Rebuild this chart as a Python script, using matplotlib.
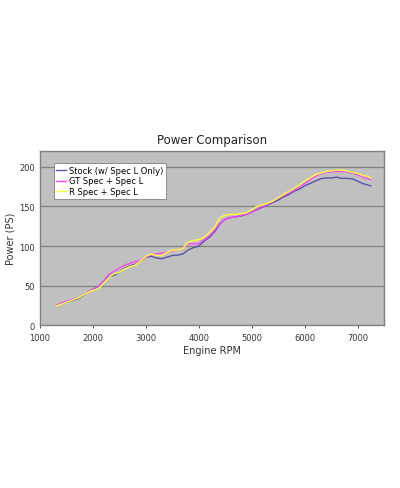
import matplotlib
matplotlib.use("Agg")
import matplotlib.pyplot as plt

rpm = [1300, 1400, 1500, 1600, 1700, 1800, 1900, 2000, 2100, 2200, 2300, 2400, 2500, 2600,
       2700, 2800, 2900, 3000, 3100, 3200, 3300, 3400, 3500, 3600, 3700, 3800, 3900, 4000,
       4100, 4200, 4300, 4400, 4500, 4600, 4700, 4800, 4900, 5000, 5100, 5200, 5300, 5400,
       5500, 5600, 5700, 5800, 5900, 6000, 6100, 6200, 6300, 6400, 6500, 6600, 6700, 6800,
       6900, 7000, 7100, 7200, 7250]

stock = [24.5, 27, 29.5, 31, 33, 37, 41, 45, 49, 55, 61, 63, 67, 72, 75, 77, 81, 86, 87, 85,
         84, 86, 88, 88.5, 90, 95, 98, 100, 106, 111, 118, 128, 134, 136, 137, 138, 140, 143,
         146, 149, 152, 155, 158, 162, 165, 169, 172, 176, 179, 182, 185, 186, 186, 187, 185.5,
         185.5, 185, 182, 179, 177, 176]

gt = [25, 28, 30.5, 32.5, 34, 37.5, 41.5, 45.5, 49, 56, 64, 68, 72, 76, 78, 80.5, 82, 86,
      89, 90, 91, 92, 94, 95, 97, 103, 103, 103, 108, 113, 120, 129, 134, 136, 136.5, 139,
      140, 143, 147, 150, 153, 156, 160, 164, 167, 171, 175, 179, 184, 188, 191, 193, 193.5,
      194.5, 194, 194, 192, 190, 187, 185, 184]

rspec = [24, 26.5, 29, 31.5, 34, 37.5, 41, 44, 46, 53, 60, 65, 67, 71, 74, 76, 81, 87, 90,
         88, 88, 92, 95, 95, 97, 105, 107, 108, 111, 117, 124, 136, 139, 140, 140, 141, 142,
         146, 150, 152, 154, 157, 161, 165, 169, 173, 177, 182, 186, 190, 192, 194, 195, 196,
         196, 195, 193, 192, 189, 188, 186]

labels = ["Stock (w/ Spec L Only)", "GT Spec + Spec L", "R Spec + Spec L"]
colors = ["#5555AA", "#FF44FF", "#FFFF33"]

plt.rcParams['font.family'] = ['DejaVu Sans']
fig = plt.figure(figsize=(4.0, 4.89), dpi=100)
ax = fig.add_axes([0.1, 0.333, 0.86, 0.356])
ax.set_facecolor("#C0C0C0")

for y, lab, c in zip([stock, gt, rspec], labels, colors):
    ax.plot(rpm, y, color=c, lw=1.0, label=lab)

ax.set_xlim(1000, 7500)
ax.set_ylim(0, 220)
ax.set_xticks(range(1000, 7001, 1000))
ax.set_yticks(range(0, 201, 50))
ax.yaxis.grid(True, color="#808080", lw=0.9)
ax.set_axisbelow(True)
for s in ax.spines.values():
    s.set_color("#808080")
    s.set_linewidth(1.0)
ax.tick_params(axis='both', labelsize=6, colors="#333333", length=2, width=0.6)
ax.tick_params(axis='y', length=0)
ax.set_xlabel("Engine RPM", fontsize=7, color="#333333", labelpad=2)
ax.set_ylabel("Power (PS)", fontsize=7, color="#333333", labelpad=3)
ax.set_title("Power Comparison", fontsize=8.5, color="#222222", pad=6)

leg = ax.legend(loc="upper left", bbox_to_anchor=(0.04, 0.93), fontsize=6, frameon=True,
                fancybox=False, framealpha=1, edgecolor="#808080", handlelength=1.2,
                handletextpad=0.3, borderpad=0.3, labelspacing=0.2, borderaxespad=0)
leg.get_frame().set_linewidth(0.6)

fig.savefig("out.png", dpi=100, facecolor="white")
